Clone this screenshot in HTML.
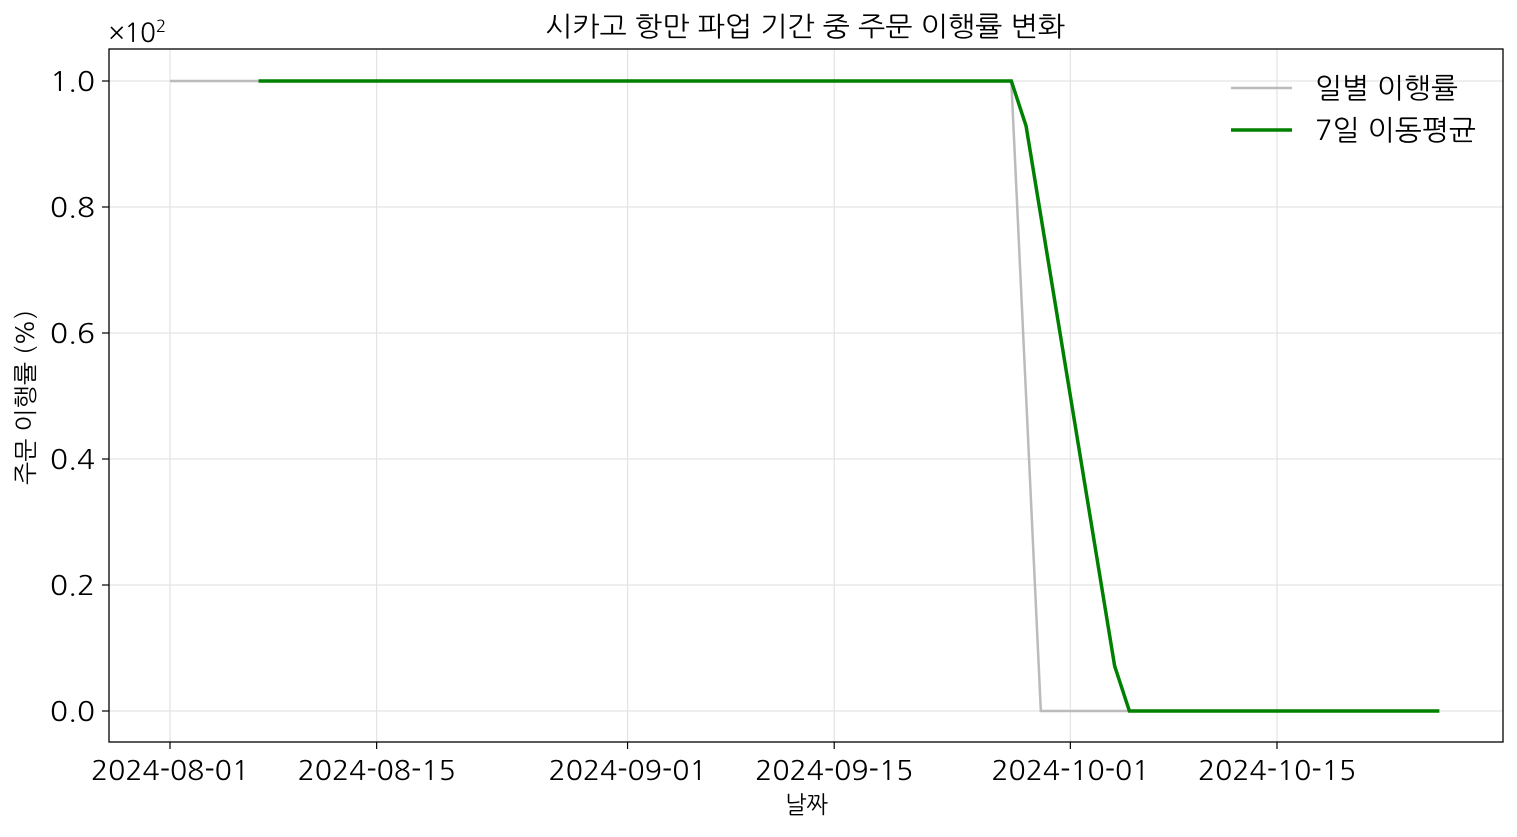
<!DOCTYPE html>
<html><head><meta charset="utf-8">
<style>
body{margin:0;background:#fff;}
svg text{font-family:"NanumGothic","Liberation Sans","Noto Sans CJK KR",sans-serif;fill:#000;}
</style></head>
<body>
<svg id="chart" width="1517" height="832">
<rect x="0" y="0" width="1517" height="832" fill="#fff"/>
<g id="grid"></g>
<g id="series"></g>
<rect x="109" y="49" width="1394" height="693" fill="none" stroke="#000" stroke-width="1.3"/>
<g id="axes"></g>
<text x="545" y="36" font-size="27" textLength="520" lengthAdjust="spacingAndGlyphs">시카고 항만 파업 기간 중 주문 이행률 변화</text>
<text x="785" y="813" font-size="24" textLength="43" lengthAdjust="spacingAndGlyphs">날짜</text>
<text transform="translate(34,485) rotate(-90)" font-size="24" textLength="175" lengthAdjust="spacingAndGlyphs">주문 이행률 (%)</text>
<text x="109" y="42" font-size="26">×10<tspan font-size="17" dy="-10">2</tspan></text>
<g>
<line x1="1231" y1="88" x2="1292" y2="88" stroke="#bbbbbb" stroke-width="2.5"/>
<text x="1315" y="98" font-size="28" textLength="143" lengthAdjust="spacingAndGlyphs">일별 이행률</text>
<line x1="1231" y1="130" x2="1292" y2="130" stroke="green" stroke-width="3.5"/>
<text x="1315" y="140" font-size="28" textLength="161" lengthAdjust="spacingAndGlyphs">7일 이동평균</text>
</g>
</svg>
<script>
// daily values (x100 %) from 2024-08-01 onward, one per day
const dailyValues = [];
for (let i = 0; i <= 57; i++) dailyValues.push(1.0);
dailyValues.push(0.5);
for (let i = 59; i <= 86; i++) dailyValues.push(0.0);
const xTickLabels = ["2024-08-01","2024-08-15","2024-09-01","2024-09-15","2024-10-01","2024-10-15"];
const xTickDays = [0,14,31,45,61,75];
const yTickValues = [0,0.2,0.4,0.6,0.8,1.0];
const yTickLabels = ["0.0","0.2","0.4","0.6","0.8","1.0"];

const NS="http://www.w3.org/2000/svg";
const xs = d => 170 + d*(1107/75);
const ys = v => 711 - v*630;
function mk(tag, attrs, parent){const e=document.createElementNS(NS,tag);for(const k in attrs)e.setAttribute(k,attrs[k]);parent.appendChild(e);return e;}
const grid=document.getElementById('grid'), axes=document.getElementById('axes'), series=document.getElementById('series');

xTickDays.forEach((d,i)=>{
  const x=xs(d);
  const g=mk('line',{x1:x,x2:x,y1:49,y2:742,stroke:'#e3e3e3','stroke-width':1.2},grid);
  
  
  const t=mk('line',{x1:x,x2:x,y1:742,y2:749,stroke:'#000','stroke-width':1.2},axes);
  
  
  const l=mk('text',{x:x-79,y:780,'font-size':27,textLength:158,lengthAdjust:'spacingAndGlyphs'},axes);
  l.textContent=xTickLabels[i];
  
  
});
yTickValues.forEach((v,i)=>{
  const y=ys(v);
  const g=mk('line',{x1:109,x2:1503,y1:y,y2:y,stroke:'#e3e3e3','stroke-width':1.2},grid);
  
  
  const t=mk('line',{x1:102,x2:109,y1:y,y2:y,stroke:'#000','stroke-width':1.2},axes);
  
  
  const l=mk('text',{x:50,y:y+10,'font-size':27,textLength:45,lengthAdjust:'spacingAndGlyphs'},axes);
  l.textContent=yTickLabels[i];
  
  
});

const dailyPts=dailyValues.map((v,i)=>xs(i)+','+ys(v)).join(' ');
const p1=mk('polyline',{points:dailyPts,fill:'none',stroke:'#bbbbbb','stroke-width':2.5},series);



const maPts=[];
for(let i=6;i<dailyValues.length;i++){
  let s=0;for(let j=i-6;j<=i;j++)s+=dailyValues[j];
  maPts.push(xs(i)+','+ys(s/7));
}
const p2=mk('polyline',{points:maPts.join(' '),fill:'none',stroke:'green','stroke-width':3.5},series);


</script>
</body></html>
